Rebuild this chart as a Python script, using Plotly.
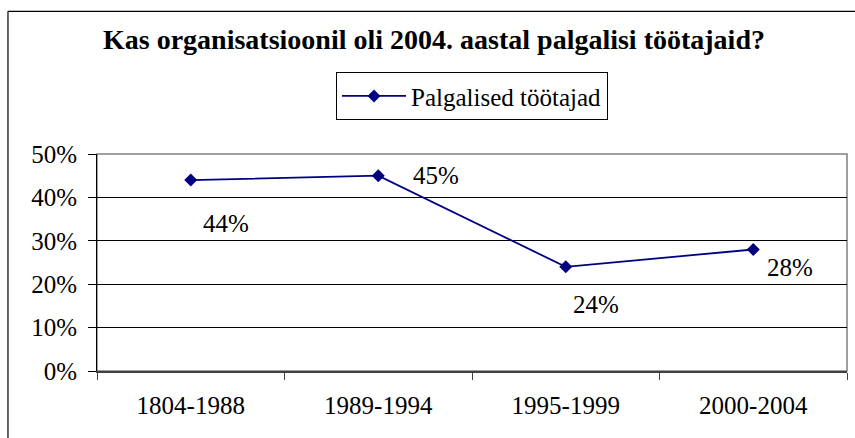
import plotly.graph_objects as go

categories = ["1804-1988", "1989-1994", "1995-1999", "2000-2004"]
values = [0.44, 0.45, 0.24, 0.28]
labels = ["44%", "45%", "24%", "28%"]
series_name = "Palgalised töötajad"
title_text = "Kas organisatsioonil oli 2004. aastal palgalisi töötajaid?"

# label offsets in pixels (x, y)
label_shift = [(35, -43), (58, 0), (30, -38), (37, -18)]

FONT = "Liberation Serif"
NAVY = "#000080"

fig = go.Figure()
fig.add_trace(go.Scatter(
    x=categories, y=values, mode="lines+markers", name=series_name,
    line=dict(color=NAVY, width=1.8),
    marker=dict(symbol="diamond", size=10, color=NAVY),
    showlegend=True,
))

for c, v, t, (dx, dy) in zip(categories, values, labels, label_shift):
    fig.add_annotation(x=c, y=v, text=t, showarrow=False, xshift=dx, yshift=dy,
                       font=dict(family=FONT, size=25, color="black"))

# plot-area box (top/right) and outer frame
fig.add_shape(type="rect", xref="paper", yref="paper", x0=0, x1=1, y0=0, y1=1,
              line=dict(color="#808080", width=1.5), layer="below")
fig.add_shape(type="line", xref="paper", yref="paper", x0=-0.1187, x1=1.2, y0=1.6575, y1=1.6575,
              line=dict(color="black", width=1.2))
fig.add_shape(type="line", xref="paper", yref="paper", x0=-0.1187, x1=-0.1187, y0=1.6575, y1=-0.6,
              line=dict(color="black", width=1.2))

fig.update_layout(
    width=855, height=438,
    margin=dict(l=97, r=8, t=154, b=66.5),
    paper_bgcolor="white", plot_bgcolor="white",
    font=dict(family=FONT, size=25, color="black"),
    title=dict(text="<b>" + title_text + "</b>", x=434 / 855, xanchor="center",
               y=1 - 39.5 / 438, yanchor="middle", yref="container",
               font=dict(family=FONT, size=28, color="black")),
    legend=dict(x=0.5, xanchor="center", y=1.377, yanchor="top",
                bordercolor="black", borderwidth=1, bgcolor="white",
                font=dict(family=FONT, size=25), itemwidth=64),
    xaxis=dict(type="category", range=[-0.5, 3.5], showgrid=False, showline=True,
               linecolor="#404040", linewidth=2,
               ticks="outside", ticklen=7, tickcolor="#404040", tickson="boundaries",
               ticklabelstandoff=11, tickfont=dict(family=FONT, size=25)),
    yaxis=dict(range=[0, 0.5], dtick=0.1, tickformat=".0%", showgrid=True, gridcolor="black",
               gridwidth=1, showline=True, linecolor="black", linewidth=1, ticks="outside",
               ticklen=8, tickcolor="black", zeroline=False, ticklabelstandoff=6,
               tickfont=dict(family=FONT, size=25)),
)

fig.write_html("out.html", config={"displayModeBar": False},
               post_script="document.body.style.margin='0';document.body.style.overflow='hidden';")
